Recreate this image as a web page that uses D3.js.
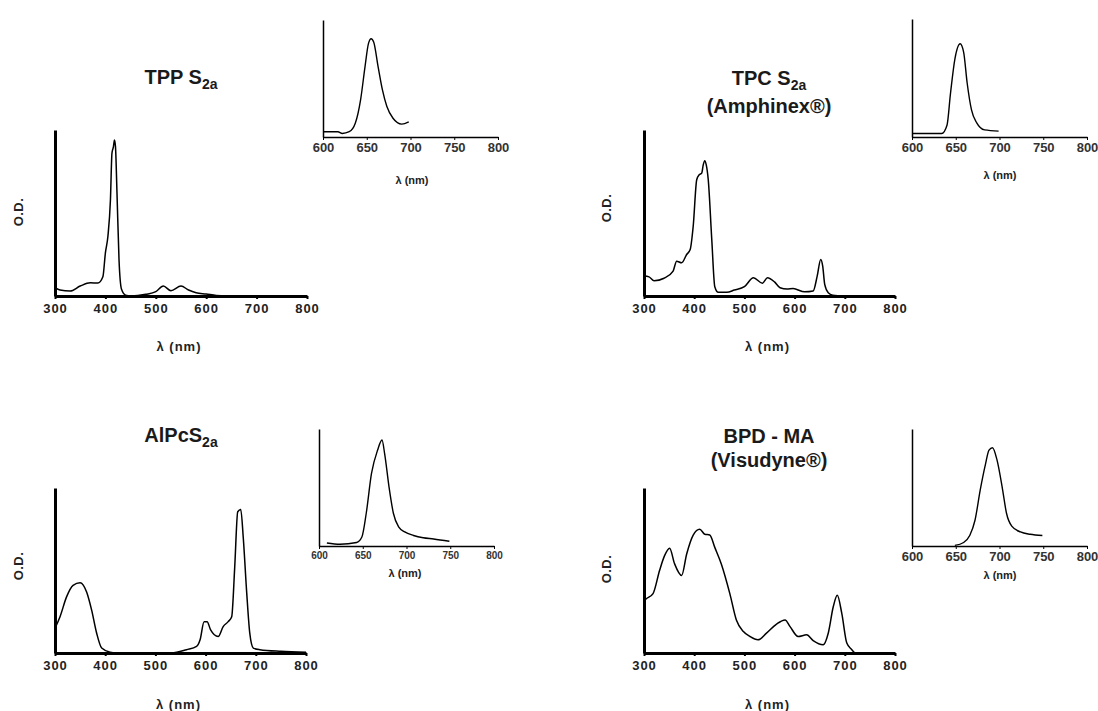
<!DOCTYPE html>
<html><head><meta charset="utf-8">
<script src="https://cdn.jsdelivr.net/npm/d3@7"></script>
<style>
body{margin:0;background:#fff;}
svg{display:block;font-family:Arial,"Liberation Sans",sans-serif;}
</style></head><body>
<svg id="c" width="1098" height="711"></svg>
<script>
// ---- data (wavelength nm, relative O.D. / intensity) ----
const mainTicks = [300, 400, 500, 600, 700, 800];
const insetTicks = [600, 650, 700, 750, 800];

const tppsAbs = [[300,0.05],[310,0.036],[330,0.03],[350,0.06],[370,0.08],[385,0.078],[395,0.116],[400,0.26],[405,0.36],[410,0.58],[413,0.86],[416,0.9],[418,0.94],[420,0.9],[423,0.62],[427,0.22],[432,0.04],[440,0.005],[450,0],[480,0.01],[500,0.026],[515,0.06],[530,0.032],[550,0.06],[565,0.036],[580,0.02],[600,0.012],[620,0.003],[640,0],[800,0]];
const tppsEm = [[600,0.045],[617,0.045],[622,0.03],[630,0.045],[637,0.12],[643,0.32],[648,0.6],[652,0.8],[655,0.84],[658,0.81],[663,0.6],[668,0.4],[673,0.26],[680,0.16],[690,0.11],[698,0.13]];

const tpcsAbs = [[300,0.12],[310,0.115],[320,0.092],[340,0.107],[358,0.15],[365,0.21],[375,0.2],[385,0.25],[392,0.28],[398,0.42],[405,0.7],[410,0.73],[415,0.74],[418,0.79],[421,0.815],[424,0.79],[428,0.7],[435,0.34],[441,0.056],[448,0.022],[465,0.022],[480,0.036],[500,0.056],[518,0.11],[536,0.077],[546,0.11],[560,0.085],[571,0.05],[585,0.042],[597,0.045],[620,0.025],[637,0.03],[645,0.12],[652,0.22],[656,0.18],[660,0.07],[667,0.02],[676,0.005],[700,0]];
const tpcsEm = [[600,0.03],[634,0.03],[640,0.1],[644,0.37],[649,0.66],[655,0.79],[659,0.72],[663,0.46],[668,0.23],[674,0.12],[683,0.06],[699,0.05]];

const alpcAbs = [[300,0.15],[310,0.22],[323,0.34],[336,0.41],[350,0.426],[363,0.37],[373,0.26],[383,0.12],[393,0.03],[410,0.005],[420,0],[532,0],[562,0.02],[582,0.04],[589,0.08],[597,0.19],[603,0.19],[610,0.14],[625,0.1],[635,0.16],[645,0.19],[652,0.22],[658,0.52],[664,0.856],[670,0.87],[675,0.7],[682,0.36],[688,0.12],[695,0.03],[708,0.02],[750,0.01],[800,0.005]];
const alpcEm = [[609,0.026],[624,0.015],[643,0.03],[649,0.077],[654,0.28],[660,0.62],[667,0.82],[672,0.906],[675,0.79],[680,0.506],[685,0.28],[691,0.163],[698,0.12],[708,0.09],[719,0.07],[731,0.06],[749,0.04]];

const bpdAbs = [[300,0.32],[305,0.33],[318,0.36],[331,0.5],[341,0.59],[351,0.635],[361,0.54],[375,0.47],[385,0.6],[398,0.715],[411,0.75],[421,0.72],[431,0.715],[441,0.64],[454,0.54],[471,0.36],[484,0.2],[498,0.13],[511,0.1],[527,0.08],[544,0.12],[564,0.175],[581,0.2],[591,0.16],[607,0.1],[624,0.11],[637,0.075],[657,0.05],[667,0.12],[677,0.28],[685,0.35],[694,0.24],[704,0.06],[714,0.02],[720,0]];
const bpdEm = [[649,0.005],[659,0.03],[666,0.09],[672,0.22],[678,0.48],[684,0.7],[688,0.82],[692,0.84],[697,0.74],[703,0.506],[708,0.28],[714,0.17],[724,0.12],[735,0.1],[749,0.09]];

const titles = [
  [["TPP S", "2a"]],
  [["TPC S", "2a"], ["(Amphinex®)", ""]],
  [["AlPcS", "2a"]],
  [["BPD - MA", ""], ["(Visudyne®)", ""]]
];

// ---- layout ----
const panels = [
  {abs: tppsAbs, em: tppsEm, title: titles[0], tx: 181, ty: [84],
   m: {x0: 55, x1: 307, yb: 296, yt: 130, ly: 351}, odx: 18, ody: 212,
   i: {x0: 323, x1: 498, yb: 137, yt: 20, fs: 13, ly: 184, lx: 412}},
  {abs: tpcsAbs, em: tpcsEm, title: titles[1], tx: 769, ty: [85, 113],
   m: {x0: 644, x1: 895, yb: 296, yt: 130, ly: 351}, odx: 606, ody: 208,
   i: {x0: 912, x1: 1087, yb: 137, yt: 19, fs: 13, ly: 179, lx: 1000}},
  {abs: alpcAbs, em: alpcEm, title: titles[2], tx: 181, ty: [442],
   m: {x0: 55, x1: 306, yb: 653, yt: 488, ly: 709}, odx: 18, ody: 566,
   i: {x0: 319, x1: 494, yb: 546, yt: 429, fs: 10, ly: 577, lx: 405}},
  {abs: bpdAbs, em: bpdEm, title: titles[3], tx: 769, ty: [443, 467],
   m: {x0: 644, x1: 895, yb: 653, yt: 488, ly: 709}, odx: 606, ody: 569,
   i: {x0: 912, x1: 1087, yb: 546, yt: 429, fs: 13, ly: 579, lx: 1000}}
];

const svg = d3.select("#c");
svg.append("rect").attr("width", 1098).attr("height", 711).attr("fill", "#fff");

panels.forEach(p => {
  const g = svg.append("g");
  // main plot
  const x = d3.scaleLinear().domain([300, 800]).range([p.m.x0, p.m.x1]);
  const y = d3.scaleLinear().domain([0, 1]).range([p.m.yb, p.m.yt]);
  const line = d3.line().curve(d3.curveMonotoneX).x(d => x(d[0])).y(d => y(d[1]));
  g.append("path").datum(p.abs).attr("d", line)
    .attr("fill", "none").attr("stroke", "#000").attr("stroke-width", 1.5);

  const xa = g.append("g").attr("transform", `translate(0,${p.m.yb})`)
    .call(d3.axisBottom(x).tickValues(mainTicks).tickSize(3).tickSizeOuter(0).tickPadding(5));
  xa.select(".domain").attr("stroke-width", 3);
  xa.selectAll(".tick line").attr("stroke-width", 2);
  xa.selectAll("text").attr("font-size", 13).attr("font-weight", "bold")
    .attr("font-family", "Arial, 'Liberation Sans', sans-serif").attr("fill", "#222").style("letter-spacing", "1px");
  const ya = g.append("g").attr("transform", `translate(${p.m.x0},0)`)
    .call(d3.axisLeft(y).tickValues([]).tickSizeOuter(0));
  ya.select(".domain").attr("stroke-width", 3);

  g.append("text").attr("x", (p.m.x0 + p.m.x1) / 2 - 2).attr("y", p.m.ly)
    .attr("text-anchor", "middle").attr("font-size", 13).attr("font-weight", "bold").attr("fill", "#222")
    .style("letter-spacing", "1px").text("λ (nm)");
  g.append("text").attr("transform", `translate(${p.odx},${p.ody}) rotate(-90)`)
    .attr("text-anchor", "middle").attr("dy", "0.35em").attr("font-size", 13).attr("font-weight", "bold").attr("fill", "#222")
    .style("letter-spacing", "0.5px").text("O.D.");

  // title
  p.title.forEach((ln, k) => {
    const t = g.append("text").attr("x", p.tx).attr("y", p.ty[k])
      .attr("text-anchor", "middle").attr("font-size", 20).attr("font-weight", "bold").attr("fill", "#1a1a1a");
    t.append("tspan").text(ln[0]);
    if (ln[1]) t.append("tspan").attr("dy", 5).attr("font-size", 14).text(ln[1]);
  });

  // inset
  const xi = d3.scaleLinear().domain([600, 800]).range([p.i.x0, p.i.x1]);
  const yi = d3.scaleLinear().domain([0, 1]).range([p.i.yb, p.i.yt]);
  const li = d3.line().curve(d3.curveMonotoneX).x(d => xi(d[0])).y(d => yi(d[1]));
  g.append("path").datum(p.em).attr("d", li)
    .attr("fill", "none").attr("stroke", "#000").attr("stroke-width", 1.4);
  const xia = g.append("g").attr("transform", `translate(0,${p.i.yb})`)
    .call(d3.axisBottom(xi).tickValues(insetTicks).tickSize(3).tickSizeOuter(0).tickPadding(3));
  xia.select(".domain").attr("stroke-width", 1.5);
  xia.selectAll("text").attr("font-size", p.i.fs).attr("font-weight", "bold")
    .attr("font-family", "Arial, 'Liberation Sans', sans-serif").attr("fill", "#333");
  const yia = g.append("g").attr("transform", `translate(${p.i.x0},0)`)
    .call(d3.axisLeft(yi).tickValues([]).tickSizeOuter(0));
  yia.select(".domain").attr("stroke-width", 1.5);
  g.append("text").attr("x", p.i.lx).attr("y", p.i.ly)
    .attr("text-anchor", "middle").attr("font-size", 11).attr("font-weight", "bold").attr("fill", "#222")
    .text("λ (nm)");
});
</script>
</body></html>
